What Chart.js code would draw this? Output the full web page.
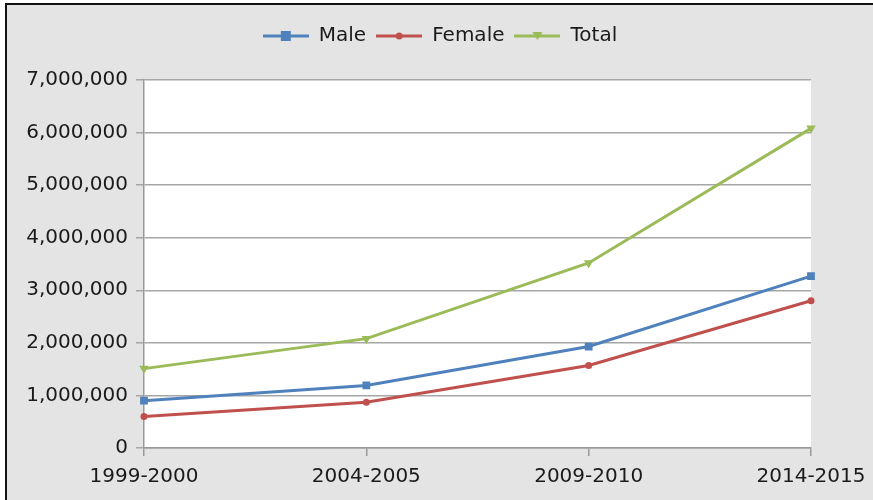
<!DOCTYPE html>
<html><head><meta charset="utf-8">
<script src="https://cdn.jsdelivr.net/npm/chart.js@4"></script>
<style>
html,body{margin:0;padding:0;background:#fff;overflow:hidden;}
#frame{position:absolute;left:5px;top:3px;width:866px;height:495px;border-left:2px solid #111;border-top:2px solid #111;background:#e4e4e4;}
canvas{display:block;}
</style></head><body>
<div id="frame"><canvas id="c" width="866" height="495"></canvas></div>
<script>
const categories = ['1999-2000', '2004-2005', '2009-2010', '2014-2015'];
const maleValues = [900000, 1190000, 1930000, 3270000];
const femaleValues = [600000, 870000, 1570000, 2800000];
const totalValues = [1510000, 2080000, 3520000, 6080000];
const yTicks = [0, 1000000, 2000000, 3000000, 4000000, 5000000, 6000000, 7000000];

const seriesNames = ['Male', 'Female', 'Total'];
const seriesColors = ['#4f81bd', '#c0504d', '#9bbb59'];
const seriesShapes = ['rect', 'circle', 'triangle'];

function legendIcon(color, shape) {
  const cv = document.createElement('canvas');
  cv.width = 46; cv.height = 14;
  const g = cv.getContext('2d');
  g.strokeStyle = color; g.lineWidth = 3;
  g.beginPath(); g.moveTo(0, 7); g.lineTo(46, 7); g.stroke();
  g.fillStyle = color;
  if (shape === 'rect') { g.fillRect(18, 2, 10, 10); }
  else if (shape === 'circle') { g.beginPath(); g.arc(23, 7, 3.5, 0, Math.PI * 2); g.fill(); }
  else { g.beginPath(); g.moveTo(18, 3); g.lineTo(28, 3); g.lineTo(23, 11); g.closePath(); g.fill(); }
  return cv;
}

const plotBg = {
  id: 'plotBg',
  beforeLayout(chart) {
    const lg = chart.legend;
    if (lg && !lg._extraWrapped) {
      const f = lg.fit.bind(lg);
      lg.fit = function () { f(); this.height += 24; };
      lg._extraWrapped = true;
    }
  },
  beforeDraw(chart) {
    const a = chart.chartArea, ctx = chart.ctx;
    ctx.save(); ctx.fillStyle = '#ffffff';
    ctx.fillRect(a.left, a.top, a.right - a.left, a.bottom - a.top);
    ctx.restore();
  }
};

const valueSets = [maleValues, femaleValues, totalValues];
const datasets = seriesNames.map((name, i) => ({
  label: name,
  data: valueSets[i],
  borderColor: seriesColors[i],
  backgroundColor: seriesColors[i],
  borderWidth: 3,
  pointStyle: seriesShapes[i],
  pointRadius: i === 0 ? 5.5 : (i === 1 ? 3.5 : 5.5),
  pointRotation: i === 2 ? 180 : 0,
  pointBorderWidth: 0,
  tension: 0,
  fill: false
}));

Chart.defaults.font.family = '"DejaVu Sans", Verdana, sans-serif';
Chart.defaults.color = '#1a1a1a';

new Chart(document.getElementById('c'), {
  type: 'line',
  data: { labels: categories, datasets },
  plugins: [plotBg],
  options: {
    responsive: false,
    animation: false,
    layout: { padding: { left: 0, right: 0, top: 11, bottom: 0 } },
    plugins: {
      tooltip: { enabled: false },
      legend: {
        position: 'top',
        labels: {
          font: { size: 20 },
          color: '#1a1a1a',
          usePointStyle: true,
          pointStyleWidth: 46,
          boxHeight: 14,
          padding: 10,
          generateLabels(chart) {
            return seriesNames.map((n, i) => ({
              text: n, fillStyle: seriesColors[i], strokeStyle: seriesColors[i],
              lineWidth: 0, pointStyle: legendIcon(seriesColors[i], seriesShapes[i]),
              datasetIndex: i, hidden: false, fontColor: '#1a1a1a'
            }));
          }
        }
      }
    },
    scales: {
      x: {
        offset: false,
        grid: { drawOnChartArea: false, drawTicks: true, tickLength: 8, color: '#999', lineWidth: 1.5 },
        border: { color: '#999', width: 1.5 },
        ticks: { font: { size: 20 }, color: '#1a1a1a', maxRotation: 0, padding: 9 },
        afterFit(s) { s.height = 52; s.paddingRight = 62; }
      },
      y: {
        min: 0, max: 7000000,
        afterBuildTicks(s) { s.ticks = yTicks.map(v => ({ value: v })); },
        grid: { color: '#a6a6a6', lineWidth: 1.5, tickLength: 8 },
        border: { color: '#999', width: 1.5 },
        ticks: {
          font: { size: 20 }, color: '#1a1a1a', padding: 8,
          callback: v => Number(v).toLocaleString('en-US')
        },
        afterFit(s) { s.width = 137; }
      }
    }
  }
});
</script>
</body></html>
